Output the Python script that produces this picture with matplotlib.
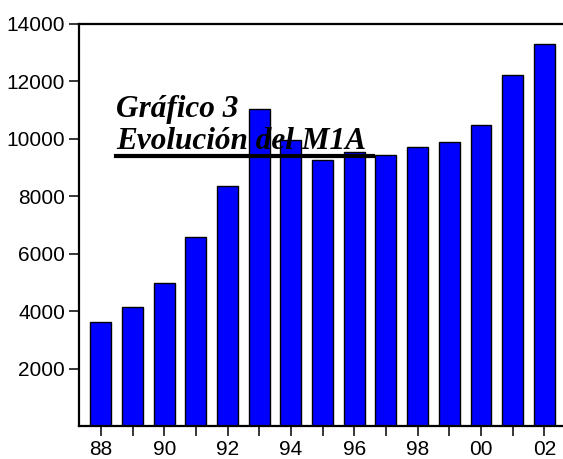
import matplotlib
matplotlib.use("Agg")
import matplotlib.pyplot as plt
from matplotlib.lines import Line2D

# M1A por año (1988-2002)
years = list(range(88, 103))
m1a = [3630, 4160, 4990, 6570, 8360, 11040, 9950, 9260, 9540, 9450,
       9720, 9890, 10500, 12220, 13290]
ytick_vals = [2000, 4000, 6000, 8000, 10000, 12000, 14000]
xtick_labels = ["88", "90", "92", "94", "96", "98", "00", "02"]

plt.rcParams["font.family"] = ["Liberation Sans", "DejaVu Sans"]

fig = plt.figure(figsize=(5.63, 4.59), dpi=100)
ax = fig.add_axes([79 / 563, 33 / 459, 497 / 563, 402 / 459])

ax.bar(years, m1a, width=0.66, color="#0000ff", edgecolor="black",
       linewidth=1.0, zorder=2)

ax.set_xlim(87.31, 103.0)
ax.set_ylim(0, 14000)

ax.set_yticks(ytick_vals)
ax.set_yticklabels([str(v) for v in ytick_vals])
ax.set_xticks(years[::2])
ax.set_xticklabels(xtick_labels)
ax.set_xticks(years[1::2], minor=True)

ax.tick_params(axis="both", which="both", direction="out", length=7,
               width=1.1, labelsize=15, pad=3, colors="black")
for side in ["left", "bottom", "top"]:
    ax.spines[side].set_linewidth(1.6)
ax.spines["right"].set_visible(False)

# titulo dentro del grafico
fig.text(116 / 563, 1 - 117 / 459, "Gráfico 3", family="Liberation Serif",
         fontsize=22.5, fontweight="bold", fontstyle="italic", zorder=5)
fig.text(116 / 563, 1 - 149 / 459, "Evolución del M1A", family="Liberation Serif",
         fontsize=22.5, fontweight="bold", fontstyle="italic", zorder=5)
fig.add_artist(Line2D([116 / 563, 373 / 563], [1 - 156 / 459, 1 - 156 / 459],
                      color="black", linewidth=3, zorder=5))

fig.savefig("out.png", dpi=100)
